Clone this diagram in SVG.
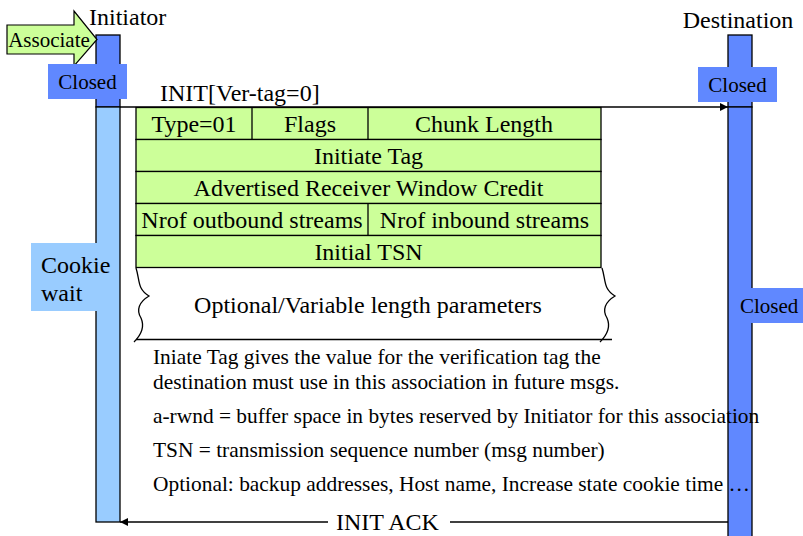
<svg xmlns="http://www.w3.org/2000/svg" width="803" height="536" viewBox="0 0 803 536">
<style>
text{font-family:"Liberation Serif","Times New Roman",serif;fill:#000}
.t24{font-size:24px}
.t21{font-size:21px}
.note{font-size:21.4px}
.c{text-anchor:middle}
.dark{fill:#6088ff}
.light{fill:#99ccff}
.grn{fill:#ccff99;stroke:#000;stroke-width:1.3}
.ln{stroke:#000;stroke-width:1.3;fill:none}
</style>
<defs>
<marker id="ah" viewBox="0 0 10 10" refX="10" refY="5" markerWidth="10" markerHeight="8" markerUnits="userSpaceOnUse" orient="auto">
<path d="M0,0L10,5L0,10z" fill="#000"/>
</marker>
</defs>
<rect width="803" height="536" fill="#fff"/>

<g id="initiator">
<rect x="96" y="35" width="24" height="72" class="dark" stroke="#000" stroke-width="1.3"/>
<rect x="96" y="107" width="24" height="415" class="light" stroke="#000" stroke-width="1.3"/>
<text x="89" y="25" class="t24">Initiator</text>
</g>
<g id="destination">
<rect x="728" y="35" width="24" height="72" class="dark" stroke="#000" stroke-width="1.3"/>
<rect x="728" y="107" width="24" height="440" class="dark" stroke="#000" stroke-width="1.3"/>
<text x="738" y="28" class="t24 c">Destination</text>
</g>

<g id="associate">
<polygon points="7,25 74,25 74,11 97,39.5 74,66 74,54 7,54" fill="#ccff99" stroke="#000" stroke-width="1.2"/>
<text x="49" y="47" class="t21 c">Associate</text>
</g>

<g id="closed-init">
<rect x="48" y="64" width="79" height="35" class="dark"/>
<text x="87.5" y="89" class="t21 c">Closed</text>
</g>
<g id="closed-dest">
<rect x="698" y="67" width="79" height="35" class="dark"/>
<text x="737.5" y="92" class="t21 c">Closed</text>
</g>
<g id="cookie-wait">
<rect x="31" y="243" width="66" height="68" class="light"/>
<text x="41" y="273" class="t24">Cookie</text>
<text x="41" y="301" class="t24">wait</text>
</g>

<g id="connectors">
<line x1="120" y1="107" x2="728" y2="107" class="ln" marker-end="url(#ah)"/>
<line x1="728" y1="522" x2="450" y2="522" class="ln"/>
<line x1="328" y1="522" x2="120" y2="522" class="ln" marker-end="url(#ah)"/>
</g>
<text x="160" y="101" class="t24">INIT[Ver-tag=0]</text>
<text x="336" y="530" class="t24">INIT ACK</text>

<g id="init-chunk">
<rect x="136" y="107.5" width="465" height="32" class="grn"/>
<line x1="252" y1="107.5" x2="252" y2="139.5" class="ln"/>
<line x1="368" y1="107.5" x2="368" y2="139.5" class="ln"/>
<rect x="136" y="139.5" width="465" height="32" class="grn"/>
<rect x="136" y="171.5" width="465" height="32" class="grn"/>
<rect x="136" y="203.5" width="465" height="32" class="grn"/>
<line x1="368" y1="203.5" x2="368" y2="235.5" class="ln"/>
<rect x="136" y="235.5" width="465" height="32" class="grn"/>
<text x="194" y="132" class="t24 c">Type=01</text>
<text x="310" y="132" class="t24 c">Flags</text>
<text x="484" y="132" class="t24 c">Chunk Length</text>
<text x="368.5" y="164" class="t24 c">Initiate Tag</text>
<text x="368.5" y="196" class="t24 c">Advertised Receiver Window Credit</text>
<text x="252" y="228" class="t24 c">Nrof outbound streams</text>
<text x="484.5" y="228" class="t24 c">Nrof inbound streams</text>
<text x="368.5" y="260" class="t24 c">Initial TSN</text>
<path d="M136,268 C140,280 137,289 149,296 C139,302 136,310 141,318 C145,327 141,335 134,342" class="ln"/>
<path d="M602,268 C606,280 603,289 615,296 C605,302 602,310 607,318 C611,327 607,335 600,342" class="ln"/>
<line x1="136" y1="339.5" x2="612" y2="339.5" class="ln"/>
<text x="368" y="313" class="t24 c">Optional/Variable length parameters</text>
</g>

<g id="notes">
<text x="153" y="364" class="note">Iniate Tag gives the value for the verification tag the</text>
<text x="153" y="389" class="note">destination must use in this association in future msgs.</text>
<text x="153" y="423" class="note">a-rwnd = buffer space in bytes reserved by Initiator for this association</text>
<text x="153" y="457" class="note">TSN = transmission sequence number (msg number)</text>
<text x="153" y="491" class="note">Optional: backup addresses, Host name, Increase state cookie time …</text>
</g>

<g id="closed-dest-2">
<rect x="738" y="288" width="65" height="35" class="dark"/>
<text x="740" y="313" class="t21">Closed</text>
</g>
</svg>
